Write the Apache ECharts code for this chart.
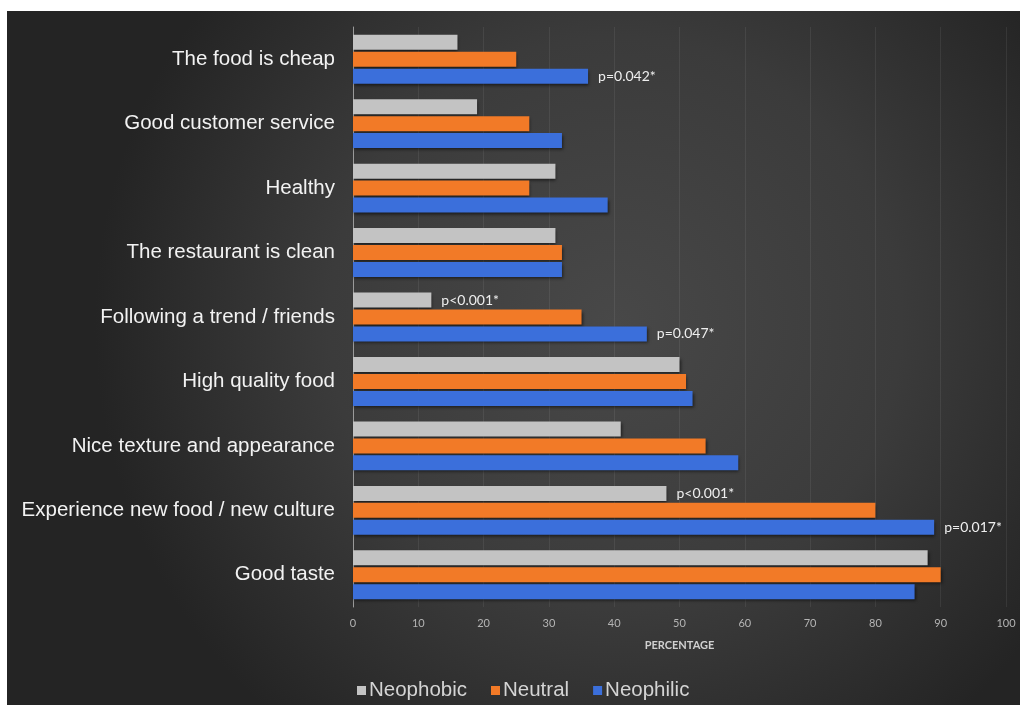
<!DOCTYPE html>
<html>
<head>
<meta charset="utf-8">
<script src="https://cdn.jsdelivr.net/npm/echarts@6/dist/echarts.min.js"></script>
<style>
  html, body { margin: 0; padding: 0; background: #ffffff; }
  #frame { position: absolute; left: 7px; top: 11px; width: 1013px; height: 694px; }
</style>
</head>
<body>
<div id="frame"></div>
<script>
// Categories, top to bottom
const categories = [
  'The food is cheap',
  'Good customer service',
  'Healthy',
  'The restaurant is clean',
  'Following a trend / friends',
  'High quality food',
  'Nice texture and appearance',
  'Experience new food / new culture',
  'Good taste'
];
const neophobic = [16, 19, 31, 31, 12, 50, 41, 48, 88];
const neutral   = [25, 27, 27, 32, 35, 51, 54, 80, 90];
const neophilic = [36, 32, 39, 32, 45, 52, 59, 89, 86];

// significance notes per bar ('' = none)
const neophobicNotes = ['', '', '', '', 'p<0.001*', '', '', 'p<0.001*', ''];
const neutralNotes   = ['', '', '', '', '', '', '', '', ''];
const neophilicNotes = ['p=0.042*', '', '', '', 'p=0.047*', '', '', 'p=0.017*', ''];

const xTicks = [0, 10, 20, 30, 40, 50, 60, 70, 80, 90, 100];

const chart = echarts.init(document.getElementById('frame'), null, { renderer: 'canvas' });

function mkSeries(name, data, notes, color) {
  return {
    name: name,
    type: 'bar',
    data: data,
    barWidth: 15,
    barGap: '13%',
    itemStyle: {
      color: color,
      shadowColor: 'rgba(0,0,0,0.55)',
      shadowBlur: 3,
      shadowOffsetX: 1,
      shadowOffsetY: 2
    },
    label: {
      show: true,
      position: 'right',
      distance: 10,
      color: '#eeeeee',
      fontFamily: 'Lato, "Open Sans", sans-serif',
      fontSize: 14,
      formatter: function (p) { return notes[p.dataIndex]; }
    }
  };
}

chart.setOption({
  backgroundColor: {
    type: 'radial', x: 0.6, y: 0.45, r: 0.75,
    colorStops: [
      { offset: 0, color: '#484848' },
      { offset: 0.55, color: '#3b3b3b' },
      { offset: 1, color: '#242424' }
    ]
  },
  animation: false,
  grid: { left: 346, right: 14, top: 16, bottom: 98, containLabel: false },
  legend: {
    data: ['Neophobic', 'Neutral', 'Neophilic'],
    left: 345,
    top: 664,
    icon: 'rect',
    itemWidth: 9,
    itemHeight: 9,
    itemGap: 24,
    textStyle: {
      color: '#d4d4d4',
      fontSize: 20.5,
      fontFamily: '"Liberation Sans", Arial, sans-serif',
      padding: [0, 0, 0, -2]
    }
  },
  xAxis: {
    type: 'value',
    min: xTicks[0],
    max: xTicks[xTicks.length - 1],
    interval: 10,
    name: 'PERCENTAGE',
    nameLocation: 'middle',
    nameGap: 33,
    nameTextStyle: {
      color: '#d0d0d0',
      fontSize: 11,
      fontWeight: 'bold',
      fontFamily: 'Lato, "Open Sans", sans-serif'
    },
    axisLine: { show: false },
    axisTick: { show: false },
    axisLabel: {
      color: '#b4b4b4',
      fontSize: 11,
      margin: 11,
      fontFamily: 'Lato, "Open Sans", sans-serif'
    },
    splitLine: { show: true, lineStyle: { color: 'rgba(255,255,255,0.07)', width: 1 } }
  },
  yAxis: {
    type: 'category',
    data: categories,
    inverse: true,
    axisLine: { show: true, lineStyle: { color: '#9a9a9a', width: 1 } },
    axisTick: { show: false },
    axisLabel: {
      color: '#f2f2f2',
      fontSize: 20.5,
      margin: 18,
      fontFamily: '"Liberation Sans", Arial, sans-serif'
    }
  },
  series: [
    mkSeries('Neophobic', neophobic, neophobicNotes, '#c3c3c3'),
    mkSeries('Neutral', neutral, neutralNotes, '#f27a27'),
    mkSeries('Neophilic', neophilic, neophilicNotes, '#3b6fdb')
  ]
});
</script>
</body>
</html>
